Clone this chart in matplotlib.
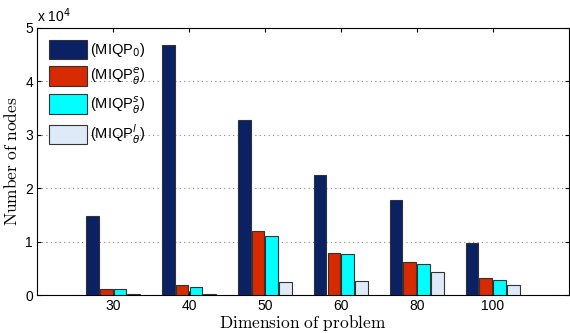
import numpy as np
import matplotlib.pyplot as plt

plt.rcParams['mathtext.fontset'] = 'cm'

dims = ['30', '40', '50', '60', '80', '100']
miqp0 = [1.48, 4.68, 3.28, 2.25, 1.78, 0.98]
miqp_e = [0.11, 0.18, 1.19, 0.78, 0.61, 0.31]
miqp_s = [0.11, 0.155, 1.11, 0.77, 0.58, 0.29]
miqp_l = [0.02, 0.02, 0.25, 0.27, 0.43, 0.18]
labels = [r'(MIQP$_0$)', r'(MIQP$^e_\theta$)', r'(MIQP$^s_\theta$)', r'(MIQP$^l_\theta$)']
colors = ['#0a2263', '#d82a00', '#00ffff', '#deeaf8']

fig = plt.figure(figsize=(5.70, 3.33), dpi=100)
ax = fig.add_axes([0.065, 0.114, 0.933, 0.802])

x = np.arange(1, len(dims) + 1)
w = 0.17
series = [miqp0, miqp_e, miqp_s, miqp_l]
for i, vals in enumerate(series):
    ax.bar(x + (i - 1.5) * w * 1.08, vals, width=w, color=colors[i],
           edgecolor='#333333', linewidth=0.8, label=labels[i], zorder=3)

ax.set_xlim(0, 7)
ax.set_ylim(0, 5)
ax.set_xticks(x)
ax.set_xticklabels(dims, fontsize=10, family='Liberation Sans')
ax.set_yticks([0, 1, 2, 3, 4, 5])
ax.set_yticklabels(['0', '1', '2', '3', '4', '5'], fontsize=10, family='Liberation Sans')
ax.tick_params(direction='in', top=True, right=True, length=3, pad=3)
ax.yaxis.grid(True, linestyle=(0, (1, 3)), color='#888888', linewidth=0.8, zorder=0)
for sp in ax.spines.values():
    sp.set_linewidth(0.8)

ax.text(0.0, 1.012, r'x 10$^4$', transform=ax.transAxes, fontsize=10,
        family='Liberation Sans', math_fontfamily='dejavusans', ha='left', va='bottom')
ax.set_xlabel(r'$\mathrm{Dimension\ of\ problem}$', fontsize=12.5, labelpad=0)
ax.set_ylabel(r'$\mathrm{Number\ of\ nodes}$', fontsize=12.5, labelpad=3)

ax.legend(loc='upper left', frameon=False, handlelength=2.6,
          handleheight=1.7, handletextpad=0.25, labelspacing=0.48,
          borderaxespad=0.4,
          prop={'family': 'Liberation Sans', 'size': 10.5, 'math_fontfamily': 'dejavusans'})

fig.savefig('out.png', dpi=100)
